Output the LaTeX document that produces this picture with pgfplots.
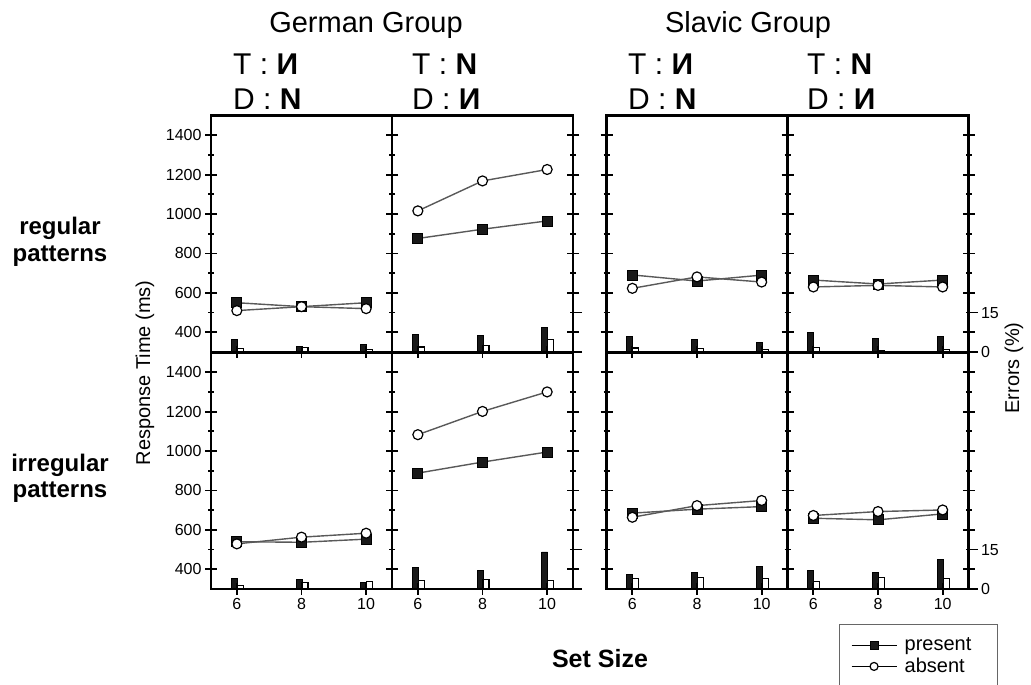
\documentclass[border=0pt]{standalone}
\usepackage{pgfplots}
\pgfplotsset{compat=1.18}
\usepackage{fontspec}
\setmainfont{Liberation Sans}
\newcommand\fs[1]{\fontsize{#1}{#1}\selectfont}

\pgfplotsset{
  rt/.style={scale only axis, width=181pt, height=236.5pt, anchor=south west,
    xmin=5.2, xmax=10.8, ymin=300, ymax=1500,
    xtick={6,8,10}, ytick={400,600,...,1400}, minor ytick={500,700,...,1300},
    xtick pos=bottom, ytick pos=both, tick align=center,
    major tick length=12pt, minor tick length=6pt,
    axis line style={line width=2.2pt},
    tick style={line width=1.8pt, black},
    tick label style={font=\fs{16}},
    /pgf/number format/1000 sep={},
    /pgf/number format/assume math mode=true, clip=false},
  noxl/.style={xticklabels={}},
  noyl/.style={yticklabels={}},
  er/.style={scale only axis, width=181pt, height=236.5pt, anchor=south west,
    xmin=5.2, xmax=10.8, ymin=0, ymax=90, ybar, bar width=6pt, hide axis},
  erR/.style={hide axis=false, axis x line=none, axis y line*=right, xtick=\empty,
    ytick={0,15}, tick align=outside, major tick length=9pt,
    tick style={line width=1.8pt, black}, axis line style={line width=2.2pt},
    yticklabel style={font=\fs{16}}, /pgf/number format/assume math mode=true},
  presbar/.style={fill=black!90, draw=black, line width=0.8pt, bar shift=-2.5pt},
  absbar/.style={fill=white, draw=black, line width=1.2pt, bar shift=3.5pt},
  pres/.style={color=black!65, line width=1.4pt, mark=square*, mark size=5pt,
    mark options={draw=black, fill=black!90, line width=0.8pt},
    legend image code/.code={\draw[black, line width=1.2pt, mark repeat=2, mark phase=2, mark size=4pt]
      plot coordinates {(0pt,0pt) (22.5pt,0pt) (45pt,0pt)};}},
  abs/.style={color=black!65, line width=1.4pt, mark=*, mark size=5pt,
    mark options={draw=black, fill=white, line width=1.2pt},
    legend image code/.code={\draw[black, line width=1.2pt, mark repeat=2, mark phase=2, mark size=4pt]
      plot coordinates {(0pt,0pt) (22.5pt,0pt) (45pt,0pt)};}},
}

% #1 x, #2 y, #3 present RT, #4 absent RT, #5 present errors, #6 absent errors,
% #7 RT axis options, #8 error axis options, #9 extra
\newcommand\panel[9]{%
  \begin{axis}[er, at={(#1,#2)}, #8]
    \addplot[presbar] coordinates {#5};
    \addplot[absbar] coordinates {#6};
  \end{axis}
  \begin{axis}[rt, at={(#1,#2)}, #7]
    \addplot[pres] coordinates {#3};
    \addplot[abs] coordinates {#4};
    #9
  \end{axis}}

\begin{document}
\begin{tikzpicture}
\useasboundingbox (0,0) rectangle (1031pt,685pt);

% ---- regular patterns (top row) ----
\panel{211pt}{333pt}
  {(6,550)(8,530)(10,550)}{(6,510)(8,530)(10,520)}
  {(6,4.9)(8,2.2)(10,2.8)}{(6,1.4)(8,1.7)(10,0.9)}
  {noxl}{}{}
\panel{392pt}{333pt}
  {(6,876)(8,923)(10,965)}{(6,1016)(8,1168)(10,1226)}
  {(6,6.7)(8,6.4)(10,9.5)}{(6,1.9)(8,2.4)(10,4.7)}
  {noxl,noyl}{erR,yticklabels={}}{}
\panel{606.5pt}{333pt}
  {(6,691)(8,660)(10,690)}{(6,623)(8,681)(10,655)}
  {(6,5.9)(8,4.9)(10,3.7)}{(6,1.5)(8,1.4)(10,1.0)}
  {noxl,noyl}{}{}
\panel{787.5pt}{333pt}
  {(6,665)(8,645)(10,665)}{(6,630)(8,638)(10,630)}
  {(6,7.3)(8,5.1)(10,5.9)}{(6,1.7)(8,0.5)(10,1.0)}
  {noxl,noyl}{erR}{}

% ---- irregular patterns (bottom row) ----
\panel{211pt}{96pt}
  {(6,540)(8,537)(10,553)}{(6,529)(8,563)(10,583)}
  {(6,4.1)(8,3.8)(10,2.4)}{(6,1.2)(8,2.6)(10,2.8)}
  {}{}{}
\panel{392pt}{96pt}
  {(6,888)(8,944)(10,995)}{(6,1083)(8,1201)(10,1300)}
  {(6,8.2)(8,7.1)(10,14.1)}{(6,3.2)(8,3.5)(10,3.2)}
  {noyl}{erR,yticklabels={}}{}
\panel{606.5pt}{96pt}
  {(6,685)(8,705)(10,718)}{(6,664)(8,723)(10,749)}
  {(6,5.4)(8,6.4)(10,8.6)}{(6,4.0)(8,4.5)(10,4.0)}
  {noyl}{}{}
\panel{787.5pt}{96pt}
  {(6,659)(8,651)(10,681)}{(6,673)(8,693)(10,701)}
  {(6,6.9)(8,6.3)(10,11.2)}{(6,2.8)(8,4.5)(10,4.0)}
  {noyl, legend cell align=left,
   legend style={at={(0.287,-0.148)}, anchor=north west, draw=black!60,
     line width=1pt, fill=white, font=\fs{20}, row sep=3pt, column sep=6pt,
     inner xsep=11pt, inner ysep=12pt, nodes={inner sep=1.5pt}}}
  {erR}
  {\legend{\makebox[80pt][l]{present},\makebox[80pt][l]{absent}}}

% ---- texts ----
\node[anchor=base, font=\fs{29}] at (366pt,652pt) {German Group};
\node[anchor=base, font=\fs{29}] at (748pt,652pt) {Slavic Group};
\foreach \xx/\tt/\dd in {233/И/N, 412/N/И, 628/И/N, 807/N/И}{
  \node[anchor=base west, font=\fs{30}, inner sep=0pt] at (\xx pt,610pt) {T : \textbf{\tt}};
  \node[anchor=base west, font=\fs{30}, inner sep=0pt] at (\xx pt,575pt) {D : \textbf{\dd}};
}
\node[anchor=base, font=\fs{24}\bfseries] at (60pt,450pt) {regular};
\node[anchor=base, font=\fs{24}\bfseries] at (60pt,423pt) {patterns};
\node[anchor=base, font=\fs{24}\bfseries] at (60pt,213pt) {irregular};
\node[anchor=base, font=\fs{24}\bfseries] at (60pt,187pt) {patterns};
\node[rotate=90, font=\fs{20}] at (145pt,312pt) {Response Time (ms)};
\node[rotate=90, font=\fs{20}] at (1014pt,317pt) {Errors (\%)};
\node[anchor=base, font=\fs{25}\bfseries] at (600pt,17pt) {Set Size};
\end{tikzpicture}
\end{document}
